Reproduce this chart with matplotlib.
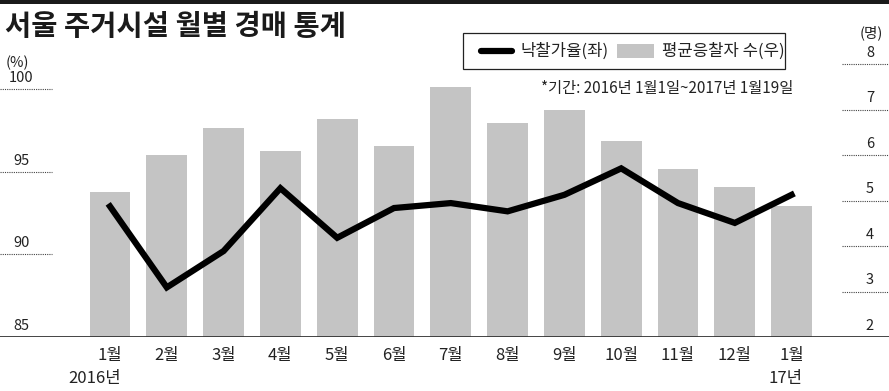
import numpy as np
import matplotlib
matplotlib.use('Agg')
import matplotlib.pyplot as plt
from matplotlib.patches import Rectangle
from matplotlib.lines import Line2D
from matplotlib.transforms import blended_transform_factory

plt.rcParams['font.family'] = ['Liberation Sans Narrow', 'Noto Sans CJK KR', 'DejaVu Sans']

# data
months = ['1월', '2월', '3월', '4월', '5월', '6월', '7월', '8월', '9월', '10월', '11월', '12월', '1월']
years = {0: '2016년', 12: '17년'}
bid_rate = [92.9, 88.0, 90.2, 94.0, 91.0, 92.8, 93.1, 92.6, 93.6, 95.2, 93.1, 91.9, 93.6]
bidders = [5.19, 6.0, 6.59, 6.09, 6.79, 6.2, 7.5, 6.7, 7.0, 6.3, 5.69, 5.29, 4.89]
left_ticks = [85, 90, 95, 100]
right_ticks = [2, 3, 4, 5, 6, 7, 8]

W, H = 889, 391
fig = plt.figure(figsize=(W / 100, H / 100), dpi=100)

def fx(px):
    return px / W

def fy(py):
    return 1 - py / H

ax = fig.add_axes([0, fy(337), 1, fy(64) - fy(337)])
ax2 = ax.twinx()

x = np.arange(len(months))
ax.bar(x, bidders, width=0.72, color='#c4c4c4', zorder=2)
ax.set_ylim(2, 8)
ax2.plot(x, bid_rate, color='black', lw=4.5, solid_joinstyle='miter', zorder=3)
ax2.set_ylim(85, 85 + 273 / (248 / 15))

xl = (-110 / 56.8, (W - 110) / 56.8)
ax.set_xlim(*xl)
for a in (ax, ax2):
    a.set_xticks([])
    a.set_yticks([])
    for s in a.spines.values():
        s.set_visible(False)
ax.axhline(2, color='#333333', lw=2, zorder=4)

# dotted guides + tick labels
tl = blended_transform_factory(ax2.transAxes, ax2.transData)
for v in left_ticks:
    if v != 85:
        ax2.plot([0, fx(52)], [v, v], transform=tl, color='#444444', lw=0.8,
                 ls=(0, (1, 1)), clip_on=False)
    ax2.annotate(str(v), (fx(21.5), v), xycoords=tl, xytext=(0, 3),
                 textcoords='offset points', ha='center', va='bottom',
                 fontsize=10.5, color='#222222')
tr = blended_transform_factory(ax.transAxes, ax.transData)
for v in right_ticks:
    if v != 2:
        ax.plot([fx(842), 1], [v, v], transform=tr, color='#444444', lw=0.8,
                ls=(0, (1, 1)), clip_on=False)
    ax.annotate(str(v), (fx(870), v), xycoords=tr, xytext=(0, 3),
                textcoords='offset points', ha='center', va='bottom',
                fontsize=10.5, color='#222222')

fig.text(fx(17), fy(63), '(%)', ha='center', va='center', fontsize=10.5, color='#222222')
fig.text(fx(871), fy(33), '(명)', ha='center', va='center', fontsize=10.5, color='#222222')

# month labels
for i, m in enumerate(months):
    ax.annotate(m, (i, 2), xycoords='data', xytext=(0, -7), textcoords='offset points',
                ha='center', va='top', fontsize=12, color='#222222', annotation_clip=False)
    if i in years:
        ax.annotate(years[i], (i, 2), xycoords='data', xytext=(8, -23.5),
                    textcoords='offset points', ha='right', va='top', fontsize=12,
                    color='#222222', annotation_clip=False)

# top rule and title
fig.add_artist(Rectangle((0, fy(4)), 1, fy(0) - fy(4), transform=fig.transFigure,
                         color='#1a1a1a', lw=0))
fig.text(fx(5), fy(27), '서울 주거시설 월별 경매 통계', ha='left', va='center',
         fontsize=20.5, fontweight='bold', color='#1a1a1a')

# legend box
fig.add_artist(Rectangle((fx(463), fy(69)), fx(785) - fx(463), fy(33) - fy(69),
                         transform=fig.transFigure, fill=False, ec='#222222', lw=0.9))
fig.add_artist(Line2D([fx(481), fx(512)], [fy(51), fy(51)], transform=fig.transFigure,
                      color='black', lw=4.5, solid_capstyle='round'))
fig.text(fx(520), fy(51), '낙찰가율(좌)', ha='left', va='center', fontsize=12, color='#222222')
fig.add_artist(Rectangle((fx(617), fy(58)), fx(654) - fx(617), fy(44) - fy(58),
                         transform=fig.transFigure, color='#c4c4c4', lw=0))
fig.text(fx(662), fy(51), '평균응찰자 수(우)', ha='left', va='center', fontsize=12, color='#222222')
fig.text(fx(793), fy(88), '*기간: 2016년 1월1일~2017년 1월19일', ha='right', va='center',
         fontsize=11, color='#222222')

fig.savefig('out.png', dpi=100)
